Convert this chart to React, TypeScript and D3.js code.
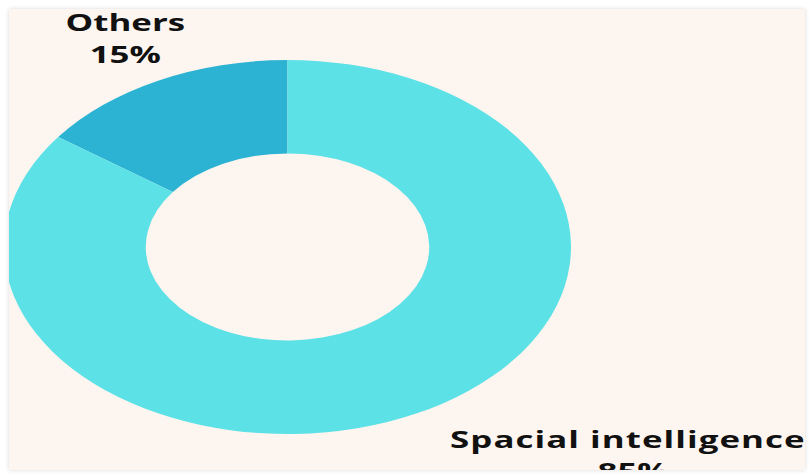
import React from "react";
import * as d3 from "d3";

const categories = ["Others", "Spacial intelligence"];
const values = [15, 85];
const colors = ["#2cb3d3", "#5ce1e6"];

const W = 811;
const H = 476;
const SX = 1.516;

export default function App() {
  const pie = d3.pie<number>().sort(null).startAngle(-2 * Math.PI * values[0] / 100).endAngle(2 * Math.PI - 2 * Math.PI * values[0] / 100);
  const arcs = pie(values);
  const outerR = 187;
  const innerR = 93.5;
  const arc = d3.arc<d3.PieArcDatum<number>>().innerRadius(innerR).outerRadius(outerR);
  const cx = 287.5;
  const cy = 247;
  const total = d3.sum(values);
  const labelPos: [number, number][] = [
    [-107, -216.5],
    [224.5, 201.5],
  ];
  const spacing = [0, 0.7];
  return (
    <svg width={W} height={H} style={{ position: "absolute", left: 0, top: 0, background: "#ffffff" }}>
      <defs>
        <clipPath id="panel">
          <rect x={9} y={9} width={796} height={461} />
        </clipPath>
        <filter id="sh" x="-5%" y="-5%" width="110%" height="110%">
          <feDropShadow dx={0} dy={0} stdDeviation={2} floodColor="#000" floodOpacity={0.15} />
        </filter>
      </defs>
      <rect x={9} y={9} width={796} height={461} fill="#fdf5ef" filter="url(#sh)" />
      <g clipPath="url(#panel)">
        <g transform={`translate(${cx},${cy}) scale(${SX},1)`}>
          {arcs.map((a, i) => (
            <path key={categories[i]} d={arc(a) || ""} fill={colors[i]} />
          ))}
          {arcs.map((a, i) => (
            <text
              key={"l" + i}
              x={labelPos[i][0]}
              y={labelPos[i][1]}
              textAnchor="middle"
              fontFamily="'Open Sans', sans-serif"
              fontWeight={700}
              fontSize={23}
              fill="#111"
            >
              <tspan x={labelPos[i][0]} letterSpacing={spacing[i]}>{categories[i]}</tspan>
              <tspan x={labelPos[i][0] + (i === 1 ? 3.5 : 0)} dy={32}>{Math.round((a.data / total) * 100) + "%"}</tspan>
            </text>
          ))}
        </g>
      </g>
    </svg>
  );
}
